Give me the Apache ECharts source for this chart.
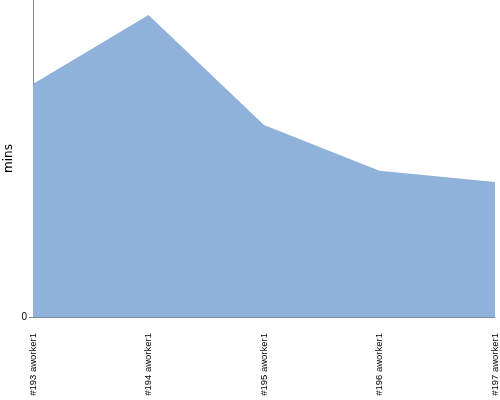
<!DOCTYPE html>
<html>
<head>
<meta charset="utf-8">
<script src="https://cdn.jsdelivr.net/npm/echarts@6/dist/echarts.min.js"></script>
<style>
  html, body { margin: 0; padding: 0; background: #fff; }
  #main { width: 500px; height: 400px; }
</style>
</head>
<body>
<div id="main"></div>
<script>
// 数据
var builds = ['#193 aworker1', '#194 aworker1', '#195 aworker1', '#196 aworker1', '#197 aworker1'];
var durations = [73.5, 95.3, 60.6, 46.1, 42.6];

var myChart = echarts.init(document.getElementById('main'));
var option = {
  animation: false,
  grid: {
    left: 33,
    right: 5,
    top: 0,
    bottom: 83,
    containLabel: false,
    outerBoundsMode: 'none'
  },
  xAxis: {
    type: 'category',
    data: builds,
    boundaryGap: false,
    axisLine: { lineStyle: { color: '#7d8ca3', width: 1 } },
    axisTick: { show: false },
    axisLabel: {
      interval: 0,
      rotate: 90,
      margin: 16,
      color: '#000',
      fontSize: 9.5,
      fontFamily: 'Liberation Sans'
    }
  },
  yAxis: {
    type: 'value',
    min: 0,
    max: 100,
    interval: 100,
    name: 'mins',
    nameLocation: 'middle',
    nameGap: 18,
    nameMoveOverlap: false,
    nameTextStyle: { color: '#000', fontSize: 12, fontFamily: 'DejaVu Sans' },
    axisLine: { show: true, lineStyle: { color: '#888', width: 1 } },
    axisTick: { show: true, length: 4, customValues: [0], lineStyle: { color: '#888' } },
    axisLabel: {
      color: '#000',
      fontSize: 10,
      margin: 6,
      customValues: [0]
    },
    splitLine: { show: false }
  },
  series: [{
    type: 'line',
    data: durations,
    symbol: 'none',
    lineStyle: { width: 0 },
    areaStyle: { color: '#8fb1da', opacity: 1 }
  }]
};
myChart.setOption(option);
</script>
</body>
</html>
